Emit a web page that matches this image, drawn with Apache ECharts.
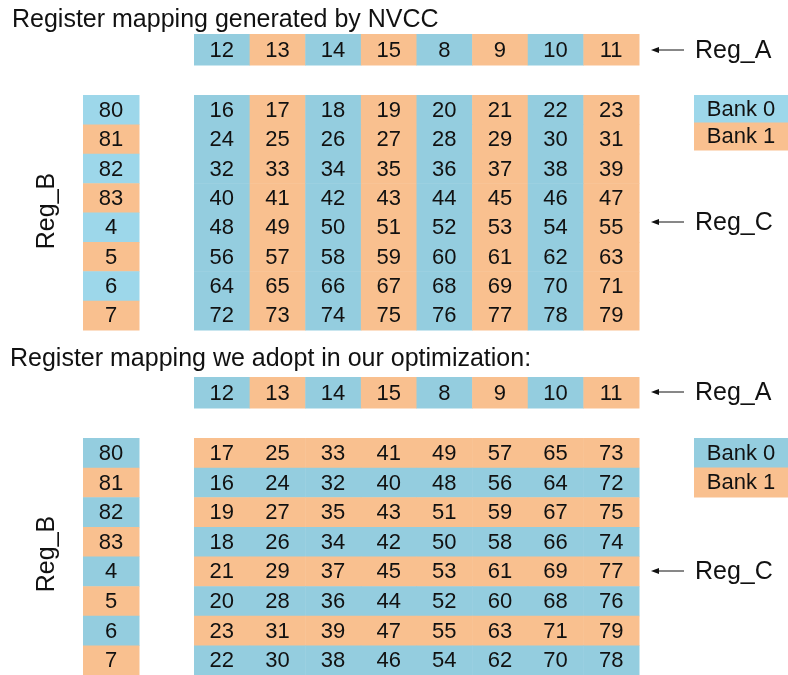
<!DOCTYPE html>
<html>
<head>
<meta charset="utf-8">
<script src="https://cdn.jsdelivr.net/npm/echarts@6/dist/echarts.min.js"></script>
<style>
  html, body { margin: 0; padding: 0; background: #fff; }
  #chart { width: 788px; height: 675px; }
</style>
</head>
<body>
<div id="chart"></div>
<script>
// register numbers
const regA = [12, 13, 14, 15, 8, 9, 10, 11];
const regB = [80, 81, 82, 83, 4, 5, 6, 7];
const regC_nvcc = [
    [16, 17, 18, 19, 20, 21, 22, 23],
    [24, 25, 26, 27, 28, 29, 30, 31],
    [32, 33, 34, 35, 36, 37, 38, 39],
    [40, 41, 42, 43, 44, 45, 46, 47],
    [48, 49, 50, 51, 52, 53, 54, 55],
    [56, 57, 58, 59, 60, 61, 62, 63],
    [64, 65, 66, 67, 68, 69, 70, 71],
    [72, 73, 74, 75, 76, 77, 78, 79]
];
const regC_ours = [
    [17, 25, 33, 41, 49, 57, 65, 73],
    [16, 24, 32, 40, 48, 56, 64, 72],
    [19, 27, 35, 43, 51, 59, 67, 75],
    [18, 26, 34, 42, 50, 58, 66, 74],
    [21, 29, 37, 45, 53, 61, 69, 77],
    [20, 28, 36, 44, 52, 60, 68, 76],
    [23, 31, 39, 47, 55, 63, 71, 79],
    [22, 30, 38, 46, 54, 62, 70, 78]
];
const bankLabels = ['Bank 0', 'Bank 1'];
const titles = ['Register mapping generated by NVCC', 'Register mapping we adopt in our optimization:'];

const FONT = '"Liberation Sans", Arial, sans-serif';
const BLUE = '#94cddf';
const BLUE_LIGHT = '#9dd7ea';
const ORANGE = '#f9c08f';

const chart = echarts.init(document.getElementById('chart'), null, { renderer: 'canvas' });

const grids = [], xAxes = [], yAxes = [], series = [];

// one block = one grid with category axes, cells drawn by a custom series
function addBlock(box, cols, rows, cells, blue) {
    const idx = grids.length;
    grids.push({ left: box[0], top: box[1], width: box[2], height: box[3], containLabel: false });
    xAxes.push({ type: 'category', gridIndex: idx, data: cols, show: false });
    yAxes.push({ type: 'category', gridIndex: idx, data: rows, inverse: true, show: false });
    series.push({
        type: 'custom',
        xAxisIndex: idx,
        yAxisIndex: idx,
        silent: true,
        data: cells.map(c => [c.x, c.y]),
        renderItem: (params, api) => {
            const c = cells[params.dataIndex];
            const p = api.coord([api.value(0), api.value(1)]);
            const s = api.size([1, 1]);
            return {
                type: 'group',
                children: [
                    {
                        type: 'rect',
                        shape: { x: p[0] - s[0] / 2, y: p[1] - s[1] / 2, width: s[0] + 0.5, height: s[1] + 0.5 },
                        style: { fill: c.bank === 0 ? blue : ORANGE }
                    },
                    {
                        type: 'text',
                        x: p[0], y: p[1] + 1,
                        style: { text: c.text, align: 'center', verticalAlign: 'middle', font: '22px ' + FONT, fill: '#111' }
                    }
                ]
            };
        }
    });
}

function rowCells(values) {
    return values.map((v, i) => ({ x: i, y: 0, text: String(v), bank: v % 2 }));
}
function colCells(values) {
    return values.map((v, i) => ({ x: 0, y: i, text: String(v), bank: v % 2 }));
}
function gridCells(matrix) {
    const out = [];
    matrix.forEach((row, r) => row.forEach((v, c) => out.push({ x: c, y: r, text: String(v), bank: v % 2 })));
    return out;
}
const colIdx = regA.map((_, i) => i);
const rowIdx = regB.map((_, i) => i);

// top half
addBlock([194, 34, 445, 31], colIdx, [0], rowCells(regA), BLUE);
addBlock([83, 95, 56, 235], [0], rowIdx, colCells(regB), BLUE_LIGHT);
addBlock([194, 95, 445, 235], colIdx, rowIdx, gridCells(regC_nvcc), BLUE);
addBlock([694, 95, 100, 55], [0], [0, 1], bankLabels.map((t, i) => ({ x: 0, y: i, text: t, bank: i })), BLUE_LIGHT);

// bottom half
addBlock([194, 377, 445, 31], colIdx, [0], rowCells(regA), BLUE);
addBlock([83, 438, 56, 237], [0], rowIdx, colCells(regB), BLUE);
addBlock([194, 438, 445, 237], colIdx, rowIdx, gridCells(regC_ours), BLUE);
addBlock([694, 438, 100, 59], [0], [0, 1], bankLabels.map((t, i) => ({ x: 0, y: i, text: t, bank: i })), BLUE);

// arrows and labels
function arrow(y, label) {
    return [
        { type: 'line', shape: { x1: 658, y1: y, x2: 684, y2: y }, style: { stroke: '#111', lineWidth: 1 } },
        { type: 'polygon', shape: { points: [[651, y], [659, y - 3], [659, y + 3]] }, style: { fill: '#111' } },
        { type: 'text', x: 695, y: y + 1, style: { text: label, font: '25px ' + FONT, fill: '#111', verticalAlign: 'middle' } }
    ];
}

const graphics = [
    { type: 'text', x: 12, y: 20, style: { text: titles[0], font: '25px ' + FONT, fill: '#111', verticalAlign: 'middle' } },
    { type: 'text', x: 10, y: 359, style: { text: titles[1], font: '25px ' + FONT, fill: '#111', verticalAlign: 'middle' } },
    { type: 'text', x: 47, y: 211, rotation: Math.PI / 2, style: { text: 'Reg_B', font: '25px ' + FONT, fill: '#111', align: 'center', verticalAlign: 'middle' } },
    { type: 'text', x: 47, y: 554, rotation: Math.PI / 2, style: { text: 'Reg_B', font: '25px ' + FONT, fill: '#111', align: 'center', verticalAlign: 'middle' } }
]
    .concat(arrow(50, 'Reg_A'))
    .concat(arrow(222, 'Reg_C'))
    .concat(arrow(392, 'Reg_A'))
    .concat(arrow(571, 'Reg_C'));

chart.setOption({
    animation: false,
    backgroundColor: '#fff',
    grid: grids,
    xAxis: xAxes,
    yAxis: yAxes,
    series: series,
    graphic: graphics
});
</script>
</body>
</html>
